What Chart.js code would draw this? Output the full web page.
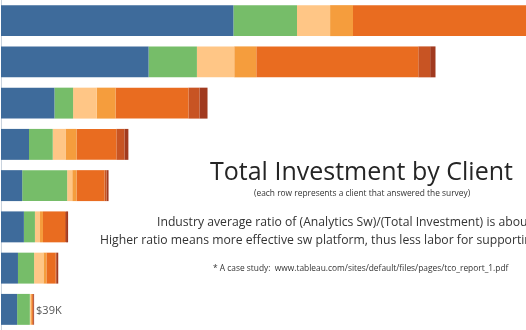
<!DOCTYPE html>
<html>
<head>
<meta charset="utf-8">
<script src="https://cdn.jsdelivr.net/npm/chart.js@4.4.0/dist/chart.umd.min.js"></script>
<style>
  html, body { margin: 0; padding: 0; background: #fff; }
  #wrap { position: relative; width: 526px; height: 330px; overflow: hidden; }
  #c { position: absolute; left: 0; top: 0; }
  .t { position: absolute; white-space: nowrap; font-family: "Open Sans", sans-serif; color: #333; }
</style>
</head>
<body>
<div id="wrap">
  <canvas id="c" width="526" height="330"></canvas>
  <div class="t" style="left:210px; top:153px; font-size:25px; color:#252525;">Total Investment by Client</div>
  <div class="t" style="left:254px; top:187px; font-size:8.4px; color:#333;">(each row represents a client that answered the survey)</div>
  <div class="t" style="left:157px; top:213px; font-size:12.2px; color:#333;">Industry average ratio of (Analytics Sw)/(Total Investment) is about 30%</div>
  <div class="t" style="left:100px; top:231px; font-size:12.2px; color:#333;">Higher ratio means more effective sw platform, thus less labor for supporting it</div>
  <div class="t" style="left:213px; top:262px; font-size:8.4px; color:#333;">* A case study:&nbsp; www.tableau.com/sites/default/files/pages/tco_report_1.pdf</div>
</div>
<script>
const clients = ['Client 1','Client 2','Client 3','Client 4','Client 5','Client 6','Client 7','Client 8'];
const seriesNames = ['Analytics Sw','Database Sw','Hardware','Infrastructure','Labor','Training','Other'];
const analyticsSw   = [274, 174, 63, 33, 25, 27, 20, 19];
const databaseSw    = [75, 57, 22, 28, 53, 13, 19, 15];
const hardware      = [39, 44, 28, 15, 6, 6, 11, 1.2];
const infrastructure= [27, 26, 22, 13, 5, 3.5, 3.5, 1.2];
const labor         = [260, 191, 86, 47, 33, 26, 11, 1.2];
const training      = [15, 14, 13, 9.5, 2.4, 1.2, 0.6, 0.4];
const other         = [7, 6.3, 9.5, 4.7, 2.4, 2.4, 2.4, 1];
const totalLabels   = ['', '', '', '', '', '', '', '$39K'];
const xMax = 619;

const colors = ['#3E6B9B','#76BD69','#FFC686','#F59D3D','#E96C20','#C85423','#A13A1F'];
const seriesValues = [analyticsSw, databaseSw, hardware, infrastructure, labor, training, other];

const totalLabelPlugin = {
  id: 'totalLabel',
  afterDatasetsDraw(chart) {
    const ctx = chart.ctx;
    const xs = chart.scales.x, ys = chart.scales.y;
    ctx.save();
    ctx.font = '11px "Open Sans", sans-serif';
    ctx.fillStyle = '#555';
    ctx.textBaseline = 'middle';
    clients.forEach((c, i) => {
      if (!totalLabels[i]) return;
      const total = seriesValues.reduce((s, arr) => s + arr[i], 0);
      ctx.fillText(totalLabels[i], xs.getPixelForValue(total) + 2, ys.getPixelForValue(i) + 1);
    });
    ctx.restore();
  }
};

new Chart(document.getElementById('c'), {
  type: 'bar',
  data: {
    labels: clients,
    datasets: seriesNames.map((n, k) => ({
      label: n,
      data: seriesValues[k],
      backgroundColor: colors[k],
      borderWidth: 0,
      barPercentage: 0.75,
      categoryPercentage: 1.0
    }))
  },
  options: {
    indexAxis: 'y',
    responsive: false,
    animation: false,
    layout: { padding: { left: 1, top: 0, right: 0, bottom: 0 } },
    plugins: { legend: { display: false }, tooltip: { enabled: false }, title: { display: false } },
    scales: {
      x: { stacked: true, display: false, min: 0, max: xMax },
      y: {
        stacked: true,
        display: true,
        ticks: { display: false },
        grid: { display: false, drawTicks: false },
        border: { display: true, color: '#c9d3de', width: 1 }
      }
    }
  },
  plugins: [totalLabelPlugin]
});
</script>
</body>
</html>
